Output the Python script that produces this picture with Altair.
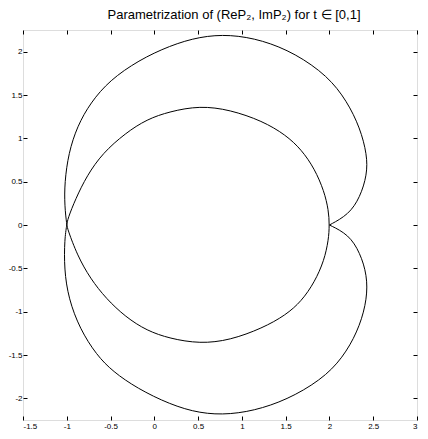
import altair as alt
import pandas as pd

# Curve, in drawing order.
# outer arc, upper half: from the cusp at (2,0) round the top down to (-1,0)
outer_upper_x = [2.00, 2.22, 2.35, 2.43, 2.43, 2.35, 2.20, 1.98, 1.61, 1.235, 0.863, 0.52, 0.176,
                 -0.18, -0.51, -0.73, -0.88, -0.98, -1.025, -1.025, -1.00]
outer_upper_y = [0.00, 0.12, 0.32, 0.58, 0.81, 1.12, 1.43, 1.72, 1.98, 2.134, 2.20, 2.175, 2.07,
                 1.90, 1.67, 1.41, 1.14, 0.83, 0.49, 0.22, 0.00]
# inner loop, lower half: from (-1,0) to (2,0)
inner_lower_x = [-0.99, -0.88, -0.73, -0.55, -0.33, -0.085, 0.176, 0.52, 0.863, 1.235, 1.50,
                 1.68, 1.83, 1.94, 1.99, 2.00]
inner_lower_y = [-0.05, -0.35, -0.62, -0.85, -1.06, -1.22, -1.31, -1.37, -1.33, -1.19, -1.04,
                 -0.88, -0.66, -0.41, -0.17, 0.00]
# inner loop, upper half: from (2,0) back to (-1,0)
inner_upper_x = [1.99, 1.94, 1.83, 1.68, 1.50, 1.235, 0.863, 0.52, 0.176, -0.085, -0.33, -0.59,
                 -0.77, -0.90, -0.99, -1.00]
inner_upper_y = [0.17, 0.39, 0.65, 0.87, 1.04, 1.20, 1.33, 1.376, 1.31, 1.22, 1.06, 0.83,
                 0.57, 0.30, 0.07, 0.00]
# outer arc, lower half: from (-1,0) round the bottom back to the cusp
outer_lower_x = [-1.025, -1.03, -0.98, -0.85, -0.66, -0.475, -0.196, 0.176, 0.52, 0.863, 1.235,
                 1.61, 1.98, 2.20, 2.35, 2.43, 2.43, 2.35, 2.22, 2.00]
outer_lower_y = [-0.16, -0.51, -0.85, -1.20, -1.50, -1.69, -1.885, -2.07, -2.175, -2.19, -2.12,
                 -1.97, -1.73, -1.46, -1.16, -0.85, -0.58, -0.32, -0.11, 0.00]

x_ticks = [-1.5, -1, -0.5, 0, 0.5, 1, 1.5, 2, 2.5, 3]
y_ticks = [-2, -1.5, -1, -0.5, 0, 0.5, 1, 1.5, 2]
x_domain = [-1.5, 3]
y_domain = [-2.25, 2.25]
title_text = ["Parametrization of (ReP\u2082, ImP\u2082) for t \u2208  [0,1]"]

xs = outer_upper_x + inner_lower_x + inner_upper_x + outer_lower_x
ys = outer_upper_y + inner_lower_y + inner_upper_y + outer_lower_y
df = pd.DataFrame({"i": list(range(len(xs))), "x": xs, "y": ys})
title_df = pd.DataFrame({"t": title_text})

FONT = "Liberation Sans"
TICK = 4
W, H = 394, 390
label_expr = "replace(datum.label, '\u2212', '-')"

xscale = alt.Scale(domain=x_domain, nice=False, zero=False)
yscale = alt.Scale(domain=y_domain, nice=False, zero=False)


def make_axis(orient, values, labels, pad):
    kw = dict(orient=orient, values=values, domain=False, grid=False, tickSize=TICK,
              offset=-TICK, tickColor="black", tickWidth=1, title=None, labels=labels,
              minExtent=0)
    if labels:
        kw.update(labelFont=FONT, labelFontSize=8, labelColor="black", format="~g",
                  labelExpr=label_expr, labelPadding=pad)
    return alt.Axis(**kw)


base = alt.Chart(df)
curve = base.mark_line(color="black", strokeWidth=1, interpolate="basis").encode(
    x=alt.X("x:Q", scale=xscale, axis=make_axis("bottom", x_ticks, True, 2)),
    y=alt.Y("y:Q", scale=yscale, axis=make_axis("left", y_ticks, True, 1)),
    order="i:Q",
)
ghost = base.mark_line(opacity=0).encode(
    x=alt.X("x:Q", scale=xscale, axis=make_axis("top", x_ticks, False, 0)),
    y=alt.Y("y:Q", scale=yscale, axis=make_axis("right", y_ticks, False, 0)),
    order="i:Q",
)
title = alt.Chart(title_df).mark_text(
    font=FONT, fontSize=13, color="black", align="center", baseline="alphabetic"
).encode(text="t:N", x=alt.value(W / 2 + 14), y=alt.value(-11))

chart = (
    alt.layer(curve, ghost, title)
    .resolve_axis(x="independent", y="independent")
    .properties(
        width=W,
        height=H,
        autosize="none",
        padding={"left": 15, "top": 22, "right": 3, "bottom": 11},
    )
    .configure_view(stroke="black", strokeWidth=1)
    .configure(background="white")
)

chart.save("out.html", embed_options={"renderer": "svg", "actions": False})
